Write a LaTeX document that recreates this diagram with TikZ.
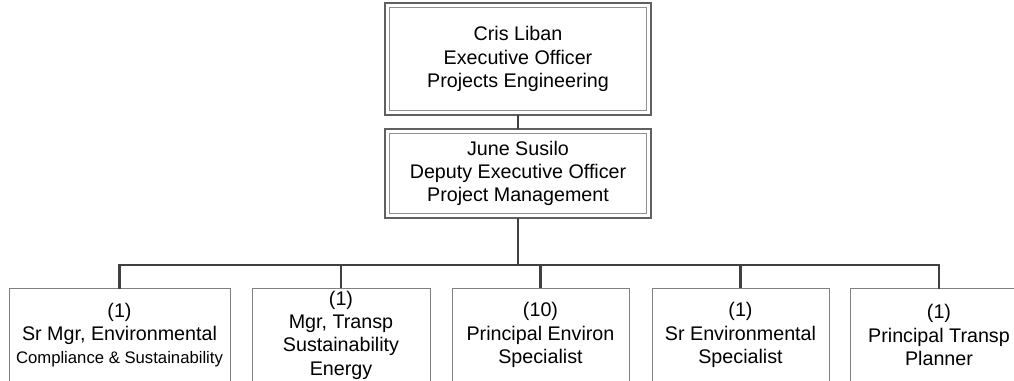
\documentclass[tikz,border=0pt]{standalone}
\usepackage{fontspec}
\setmainfont{Liberation Sans}
\definecolor{conn}{HTML}{404040}
\definecolor{boxline}{HTML}{808080}
\definecolor{outerline}{HTML}{606060}
\definecolor{innerline}{HTML}{909090}
\begin{document}
\begin{tikzpicture}[x=1pt,y=1pt,
  every node/.style={outer sep=0pt,inner sep=0pt,align=center,font=\fontsize{19.7}{23.3}\selectfont},
  headbox/.style={draw=outerline,line width=1.2pt,fill=white,minimum width=266pt},
  childbox/.style={draw=boxline,line width=0.9pt,fill=white,minimum height=94pt},
  connector/.style={draw=conn,line width=2.2pt},
  innerframe/.style={draw=innerline,line width=1pt}]
\useasboundingbox (0,0) rectangle (1014,-380);
\clip (0,0) rectangle (1014,-380);
\fill[white] (0,0) rectangle (1014,-380);

% connectors first (under boxes)
\node[headbox,minimum height=112pt] (a) at (518,-59) {Cris Liban\\Executive Officer\\Projects Engineering};
\node[headbox,minimum height=89pt] (b) at (518,-173.5) {June Susilo\\Deputy Executive Officer\\Project Management};
\draw[innerframe] ([shift={(4.5pt,-4.5pt)}]a.north west) rectangle ([shift={(-4.5pt,4.5pt)}]a.south east);
\draw[innerframe] ([shift={(4.5pt,-4.5pt)}]b.north west) rectangle ([shift={(-4.5pt,4.5pt)}]b.south east);

\node[childbox,minimum width=221pt] (c1) at (119.5,-335) {(1)\\Sr Mgr, Environmental\\{\fontsize{16.7}{20}\selectfont Compliance \& Sustainability}};
\node[childbox,minimum width=178pt] (c2) at (341,-335) {(1)\\Mgr, Transp\\Sustainability\\Energy};
\node[childbox,minimum width=177pt] (c3) at (540.5,-335) {(10)\\Principal Environ\\Specialist};
\node[childbox,minimum width=177pt] (c4) at (740.5,-335) {(1)\\Sr Environmental\\Specialist};
\node[childbox,minimum width=178pt] (c5) at (939,-335) {(1)\\Principal Transp\\Planner};

\coordinate (bus) at (518,-265);
\draw[connector] (a.south) -- (b.north);
\draw[connector] (b.south) -- (bus);
\draw[connector,line cap=rect] (c1.north) |- (bus);
\draw[connector,line cap=rect] (c5.north) |- (bus);
\draw[connector] (c2.north) -- (c2.north |- bus);
\draw[connector] (c3.north) -- (c3.north |- bus);
\draw[connector] (c4.north) -- (c4.north |- bus);
\end{tikzpicture}
\end{document}
